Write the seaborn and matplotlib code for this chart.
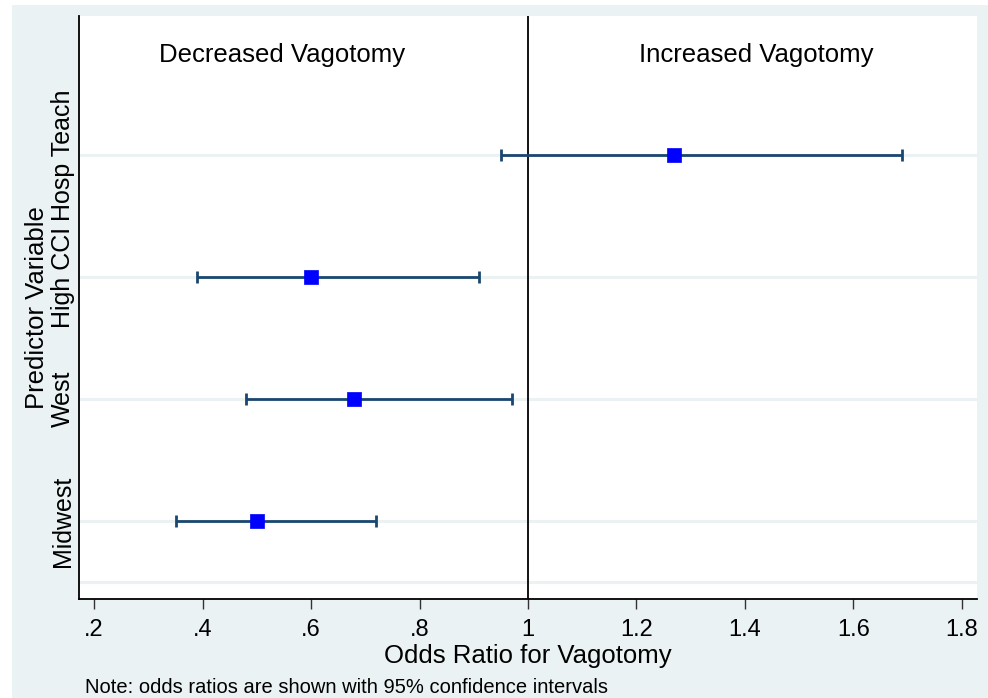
import matplotlib
matplotlib.use("Agg")
import matplotlib.pyplot as plt
import seaborn as sns
import pandas as pd
from matplotlib.patches import Rectangle

# ---- data ----
predictors = ["Hosp Teach", "High CCI", "West", "Midwest"]
odds_ratio = [1.27, 0.60, 0.68, 0.50]
ci_low = [0.95, 0.39, 0.48, 0.35]
ci_high = [1.69, 0.91, 0.97, 0.72]
x_ticks = [0.2, 0.4, 0.6, 0.8, 1.0, 1.2, 1.4, 1.6, 1.8]
x_ticklabels = [".2", ".4", ".6", ".8", "1", "1.2", "1.4", "1.6", "1.8"]

sns.set_theme(style="white")
plt.rcParams['font.family'] = ['Liberation Sans', 'DejaVu Sans']
plt.rcParams['text.color'] = 'black'
plt.rcParams['axes.labelcolor'] = 'black'
plt.rcParams['xtick.labelcolor'] = 'black'
plt.rcParams['ytick.labelcolor'] = 'black'

BG = "#EAF2F3"
NAVY = "#1A476F"

df = pd.DataFrame({
    "predictor": predictors,
    "or": odds_ratio,
    "lo": ci_low,
    "hi": ci_high,
})
df["ypos"] = [len(predictors) - i for i in range(len(predictors))]

fig = plt.figure(figsize=(9.88, 6.98), dpi=100)
fig.patch.set_facecolor("white")
fig.add_artist(Rectangle((12 / 988, 0), 1 - 12 / 988, 1 - 5 / 698,
                         transform=fig.transFigure, facecolor=BG,
                         edgecolor="none", zorder=-10))

ax = fig.add_axes([79 / 988, 1 - 599 / 698, (977 - 79) / 988, (599 - 16) / 698])
ax.set_facecolor("white")

ax.set_xlim(0.172, 1.828)
ax.set_ylim(0.36, 5.14)

# grid lines
for gy in [0.5] + list(df["ypos"]):
    ax.axhline(gy, color=BG, lw=2.2, zorder=0)

# reference line at OR=1
ax.axvline(1.0, color="black", lw=1.3, zorder=1)

# confidence intervals
ax.errorbar(df["or"], df["ypos"],
            xerr=[df["or"] - df["lo"], df["hi"] - df["or"]],
            fmt="none", ecolor=NAVY, elinewidth=2.0, capsize=4.5,
            capthick=2.0, zorder=2)

sns.scatterplot(data=df, x="or", y="ypos", marker="s", s=115,
                color="#0000FF", edgecolor="#0000FF", linewidth=0.5,
                ax=ax, zorder=3, legend=False)

ax.set_xticks(x_ticks)
ax.set_xticklabels(x_ticklabels, fontsize=17)
ax.set_yticks(list(df["ypos"]))
ax.set_yticklabels(predictors, fontsize=18, rotation=90, va="center")

ax.tick_params(axis="x", direction="out", length=7.5, width=1.0,
               color="#333333", pad=7, bottom=True)
ax.tick_params(axis="y", length=0, pad=3, left=False)

for side in ["top", "right"]:
    ax.spines[side].set_visible(False)
for side in ["left", "bottom"]:
    ax.spines[side].set_visible(True)
    ax.spines[side].set_color("black")
    ax.spines[side].set_linewidth(1.3)

ax.set_xlabel("Odds Ratio for Vagotomy", fontsize=18.5, labelpad=2)
ax.set_ylabel("Predictor Variable", fontsize=18.5, labelpad=1)

ax.text(0.5456, 0.921, "Decreased Vagotomy", transform=ax.get_xaxis_transform(),
        ha="center", va="baseline", fontsize=18.5)
ax.text(1.421, 0.921, "Increased Vagotomy", transform=ax.get_xaxis_transform(),
        ha="center", va="baseline", fontsize=18.5)

fig.text(85 / 988, 1 - 693 / 698,
         "Note: odds ratios are shown with 95% confidence intervals",
         ha="left", va="baseline", fontsize=14.5)

fig.savefig("out.png", dpi=100, facecolor=fig.get_facecolor())
